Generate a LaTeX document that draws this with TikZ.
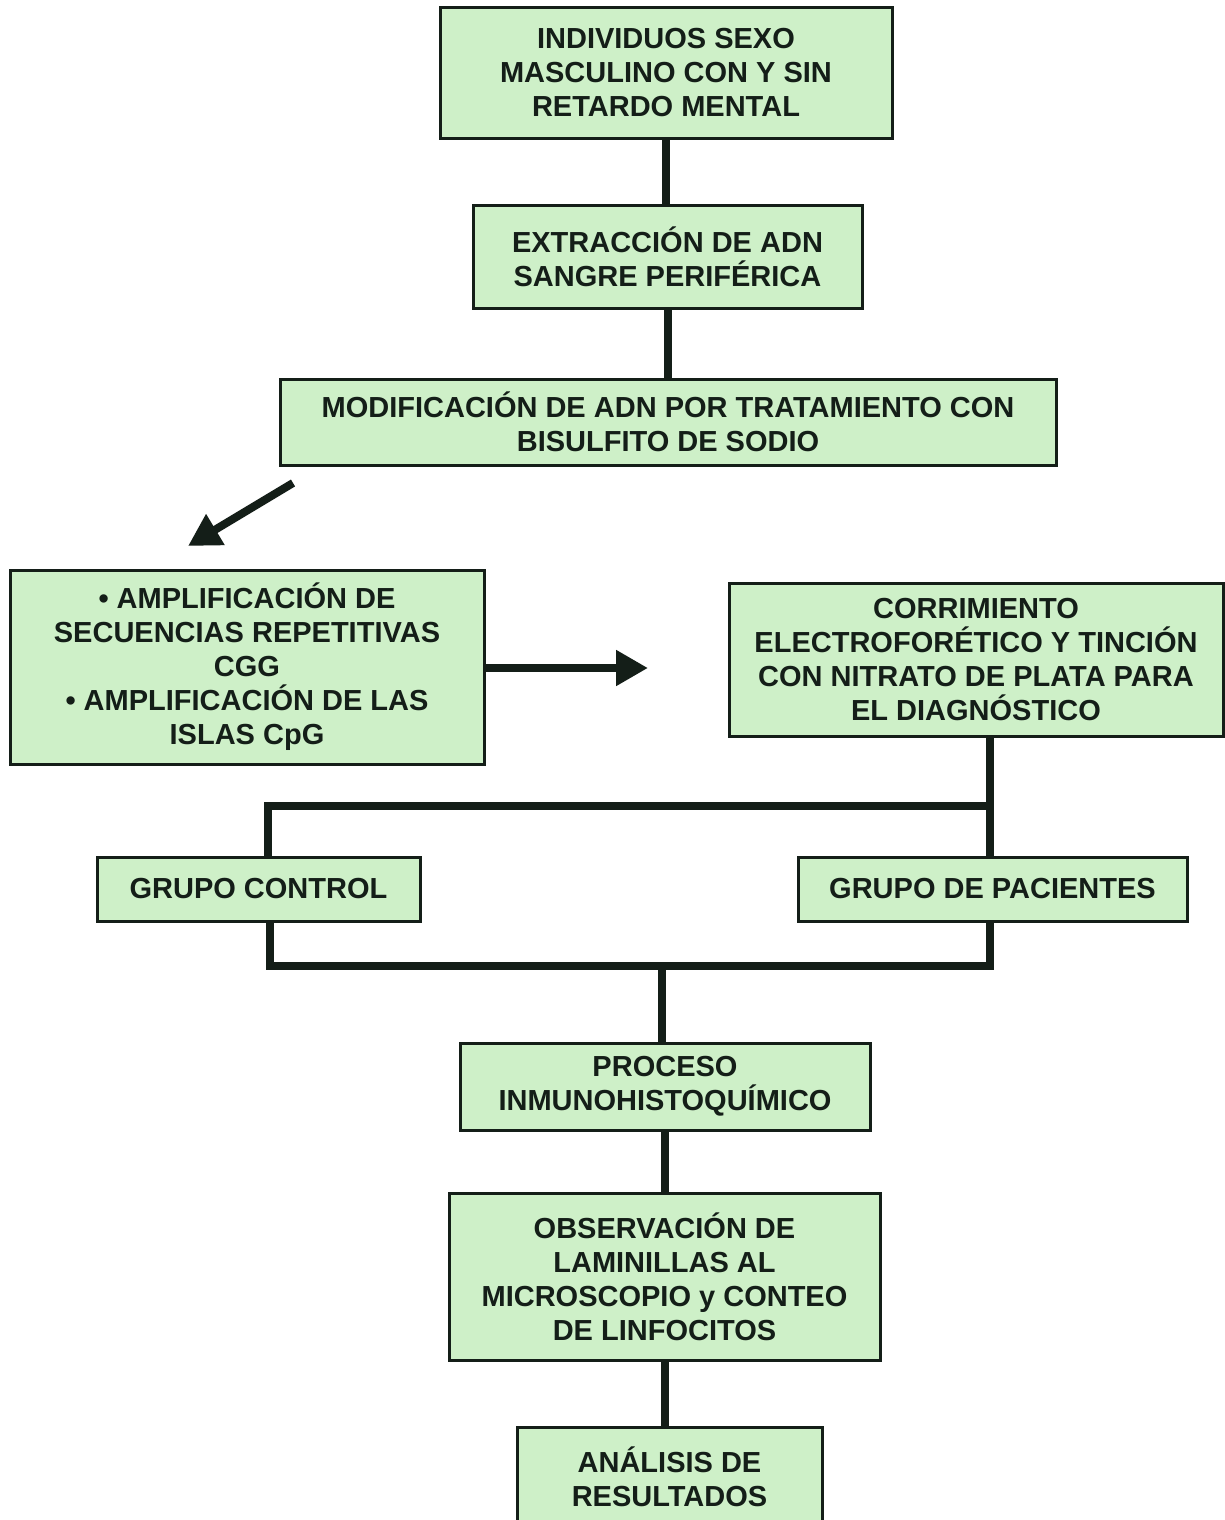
\documentclass[tikz,border=0pt]{standalone}
\usepackage{fontspec}
\setmainfont{Liberation Sans}
\usetikzlibrary{arrows.meta,calc}
\definecolor{boxgreen}{RGB}{206,240,200}
\definecolor{ink}{RGB}{20,30,24}
\begin{document}
\begin{tikzpicture}[x=1pt,y=-1pt,
  box/.style={draw=ink,line width=3pt,fill=boxgreen,rectangle,inner sep=0pt,align=center,
    font=\bfseries\fontsize{29}{34}\selectfont,text=ink},
  conn/.style={draw=ink,line width=8pt,line cap=butt},
  arr/.style={draw=ink,line width=8pt,-{Triangle[length=32pt,width=34pt]}}]
\useasboundingbox[fill=white] (0,0) rectangle (1225,1520);
% boxes
\node[box,minimum width=452pt,minimum height=130pt] (b1) at (666,73) {INDIVIDUOS SEXO\\MASCULINO CON Y SIN\\RETARDO MENTAL};
\node[box,minimum width=389pt,minimum height=103pt] (b2) at (667.5,256.5) {EXTRACCIÓN DE ADN\\SANGRE PERIFÉRICA};
\node[box,minimum width=776pt,minimum height=86pt] (b3) at (668,422) {MODIFICACIÓN DE ADN POR TRATAMIENTO CON\\BISULFITO DE SODIO};
\node[box,minimum width=474pt,minimum height=194pt] (b4) at (247,667) {• AMPLIFICACIÓN DE\\SECUENCIAS REPETITIVAS\\CGG\\• AMPLIFICACIÓN DE LAS\\ISLAS CpG};
\node[box,minimum width=494pt,minimum height=153pt] (b5) at (976,659.5) {CORRIMIENTO\\ELECTROFORÉTICO Y TINCIÓN\\CON NITRATO DE PLATA PARA\\EL DIAGNÓSTICO};
\node[box,minimum width=323pt,minimum height=64pt] (ctrl) at (258.5,889) {GRUPO CONTROL};
\node[box,minimum width=389pt,minimum height=64pt] (pac) at (992.5,889) {GRUPO DE PACIENTES};
\node[box,minimum width=410pt,minimum height=87pt] (proc) at (665,1086.5) {PROCESO\\INMUNOHISTOQUÍMICO};
\node[box,minimum width=431pt,minimum height=167pt] (obs) at (664.5,1276.5) {OBSERVACIÓN DE\\LAMINILLAS AL\\MICROSCOPIO y CONTEO\\DE LINFOCITOS};
\node[box,minimum width=305pt,minimum height=100pt] (ana) at (669.5,1477) {ANÁLISIS DE\\RESULTADOS};
% coordinates
\coordinate (dA) at (293,483);
\coordinate (dB) at (188,546);
\coordinate (hB) at (648,668);
\coordinate (jl) at (268,806);
\coordinate (jr) at (990,806);
\coordinate (kl) at (270,966);
\coordinate (kr) at (990,966);
\coordinate (km) at (662,966);
% connectors
\draw[conn] (b1.south) -- (b1.south |- b2.north);
\draw[conn] (b2.south) -- (b2.south |- b3.north);
\draw[arr] (dA) -- (dB);
\draw[arr] (b4.east |- hB) -- (hB);
\draw[conn] (jr |- b5.south) -- (jr |- pac.north);
\draw[conn,line cap=rect] (jr) -- (jl);
\draw[conn] (jl) -- (jl |- ctrl.north);
\draw[conn] (kl |- ctrl.south) -- (kl);
\draw[conn,line cap=rect] (kl) -- (kr);
\draw[conn] (kr) -- (kr |- pac.south);
\draw[conn] (km) -- (km |- proc.north);
\draw[conn] (proc.south) -- (proc.south |- obs.north);
\draw[conn] (obs.south) -- (obs.south |- ana.north);
\end{tikzpicture}
\end{document}
